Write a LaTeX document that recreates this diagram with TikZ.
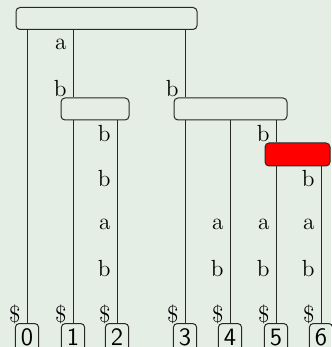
\documentclass[tikz,border=0pt]{standalone}
\definecolor{bgc}{RGB}{228,238,228}
\definecolor{edgec}{RGB}{40,40,40}
\tikzset{
  ibox/.style={draw=edgec, line width=0.6pt, rounded corners=2.4pt, inner sep=0pt},
  leafbox/.style={draw=edgec, line width=0.6pt, rounded corners=2.4pt, inner sep=0pt,
    minimum width=14pt, minimum height=16.8pt, anchor=north, font=\fontsize{15}{18}\selectfont\sffamily},
  edgeline/.style={draw=edgec, line width=0.6pt},
  lbl/.style={anchor=east, inner sep=0pt, font=\fontsize{14}{17}\selectfont}
}
\begin{document}
\begin{tikzpicture}[x=0.6pt, y=-0.6pt]
\fill[bgc] (0,0) rectangle (331,347);
\useasboundingbox (0,0) rectangle (331,347);
% internal nodes
\node[ibox, minimum width=108.6pt, minimum height=13.2pt] (root) at (106.5,18.5) {};
\node[ibox, minimum width=40.8pt, minimum height=13.2pt] (n1) at (95,109) {};
\node[ibox, minimum width=67.8pt, minimum height=13.2pt] (n2) at (230.5,109) {};
\node[ibox, fill=red, minimum width=39pt, minimum height=13.8pt] (n3) at (297.5,154.5) {};
% leaves
\node[leafbox] (l0) at (27,323) {0};
\node[leafbox] (l1) at (73,323) {1};
\node[leafbox] (l2) at (117,323) {2};
\node[leafbox] (l3) at (185,323) {3};
\node[leafbox] (l4) at (230,323) {4};
\node[leafbox] (l5) at (276,323) {5};
\node[leafbox] (l6) at (321,323) {6};
% edges
\draw[edgeline] (root.south -| l0.north) -- (l0.north);
\draw[edgeline] (root.south -| l1.north) -- (n1.north -| l1.north);
\draw[edgeline] (root.south -| l3.north) -- (n2.north -| l3.north);
\draw[edgeline] (n1.south -| l1.north) -- (l1.north);
\draw[edgeline] (n1.south -| l2.north) -- (l2.north);
\draw[edgeline] (n2.south -| l3.north) -- (l3.north);
\draw[edgeline] (n2.south -| l4.north) -- (l4.north);
\draw[edgeline] (n2.south -| l5.north) -- (n3.north -| l5.north);
\draw[edgeline] (n3.south -| l5.north) -- (l5.north);
\draw[edgeline] (n3.south -| l6.north) -- (l6.north);
% labels
\node[lbl] (e0) at (21,314) {\$};
\node[lbl] (e1a) at (67,44) {a};
\node[lbl] (e1b) at (67,89) {b};
\node[lbl] (e1c) at (67,314) {\$};
\node[lbl] (e2a) at (111,134) {b};
\node[lbl] (e2b) at (111,179) {b};
\node[lbl] (e2c) at (111,224) {a};
\node[lbl] (e2d) at (111,269) {b};
\node[lbl] (e2e) at (111,314) {\$};
\node[lbl] (e3a) at (179,89) {b};
\node[lbl] (e3b) at (179,314) {\$};
\node[lbl] (e4a) at (224,224) {a};
\node[lbl] (e4b) at (224,269) {b};
\node[lbl] (e4c) at (224,314) {\$};
\node[lbl] (e5a) at (270,134) {b};
\node[lbl] (e5b) at (270,224) {a};
\node[lbl] (e5c) at (270,269) {b};
\node[lbl] (e5d) at (270,314) {\$};
\node[lbl] (e6a) at (315,179) {b};
\node[lbl] (e6b) at (315,224) {a};
\node[lbl] (e6c) at (315,269) {b};
\node[lbl] (e6d) at (315,314) {\$};
\end{tikzpicture}
\end{document}
